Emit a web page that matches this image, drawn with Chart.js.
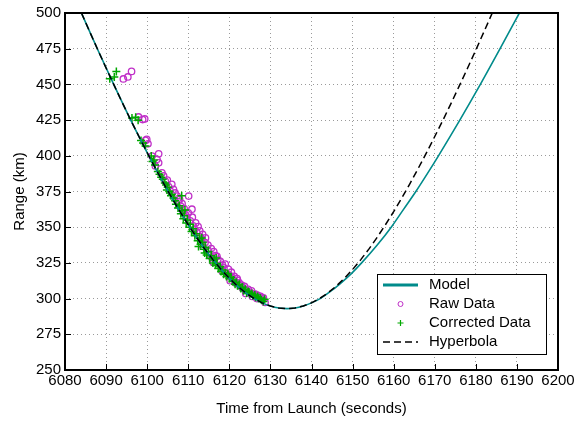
<!DOCTYPE html>
<html>
<head>
<meta charset="utf-8">
<script src="https://cdn.jsdelivr.net/npm/chart.js@4"></script>
<style>
  html, body { margin: 0; padding: 0; background: #fff; }
  #wrap { width: 580px; height: 422px; }
</style>
</head>
<body>
<div id="wrap"><canvas id="c" width="580" height="422"></canvas></div>
<script>
// ---------- axes ----------
const X_MIN = 6080, X_MAX = 6200, X_STEP = 10;
const Y_MIN = 250, Y_MAX = 500, Y_STEP = 25;

// ---------- hyperbola fit (s, km) ----------
const hyperTime = [6084, 6086, 6088, 6090, 6092, 6094, 6096, 6098, 6100, 6102, 6104, 6106, 6108,
  6110, 6112, 6114, 6116, 6118, 6120, 6122, 6124, 6126, 6128, 6130, 6132, 6134,
  6136, 6138, 6140, 6142, 6144, 6146, 6148, 6150, 6152, 6154, 6156, 6158, 6160,
  6162, 6164, 6166, 6168, 6170, 6172, 6174, 6176, 6178, 6180, 6182, 6184];
const hyperRange = [500.0, 487.0, 474.1, 461.5, 449.1, 436.9, 425.0, 413.5, 402.2, 391.3, 380.7, 370.6, 360.9,
  351.7, 343.0, 334.8, 327.3, 320.4, 314.2, 308.7, 304.0, 300.1, 297.0, 294.8, 293.4, 293.0,
  293.4, 294.8, 297.0, 300.1, 304.0, 308.7, 314.2, 320.4, 327.3, 334.8, 343.0, 351.7, 360.9,
  370.6, 380.7, 391.3, 402.2, 413.5, 425.0, 436.9, 449.1, 461.5, 474.1, 487.0, 500.0];

// ---------- orbit model (s, km) ----------
const modelTime = [6084, 6088, 6092, 6096, 6100, 6104, 6108, 6112, 6116, 6120, 6124, 6128, 6131, 6134,
  6136, 6138, 6140, 6142.1, 6144.6, 6146.8, 6149.7, 6152.2, 6156.0, 6159.4, 6162.4, 6165.4,
  6168.2, 6170.9, 6176.1, 6181.1, 6185.9, 6190.6];
const modelRange = [500.0, 474.1, 449.1, 425.0, 402.2, 380.7, 360.9, 343.0, 327.3, 314.2, 304.0, 297.0, 294.0, 293.0,
  293.4, 294.8, 297.0, 300.0, 305.0, 310.0, 317.5, 325.0, 337.5, 350.0, 362.5, 375.0,
  387.5, 400.0, 425.0, 450.0, 475.0, 500.0];

// ---------- measurements ----------
const rawTime = [6094.2, 6095.3, 6096.2, 6097.9, 6098.9, 6099.4, 6099.6, 6100.2, 6099.9,
  6101.2, 6102.8, 6102.4, 6102.8, 6102.0, 6103.6, 6104.4, 6106.0, 6106.4, 6105.2,
  6110.1, 6107.3, 6106.8, 6108.1, 6110.9, 6107.6, 6108.9, 6109.7, 6110.5, 6109.4, 6111.2,
  6112.1, 6111.6, 6113.3, 6114.1, 6112.9, 6113.6, 6115.3, 6116.6, 6116.1, 6115.0, 6117.2,
  6119.0, 6118.2, 6119.4, 6118.7, 6120.6, 6120.0, 6121.4, 6122.0, 6122.6, 6123.2, 6124.3,
  6123.8, 6125.2, 6126.3, 6127.0, 6127.5, 6128.1, 6128.7, 6126.7, 6125.6,
  6104.0, 6104.9, 6105.6, 6107.9, 6108.5, 6109.0, 6110.0, 6111.0, 6111.8, 6112.4, 6112.8,
  6113.5, 6114.2, 6114.8, 6115.6, 6116.2, 6117.0, 6117.8, 6118.3, 6119.8, 6120.5, 6121.2,
  6121.9, 6122.4, 6123.0, 6123.7, 6124.6, 6125.4, 6125.9, 6126.8, 6127.6, 6128.3, 6124.0,
  6120.2, 6115.8];
const rawRange = [453.8, 455.2, 459.1, 427.2, 425.4, 425.8, 410.8, 408.4, 411.5,
  399.8, 401.4, 397.5, 395.1, 392.8, 388.1, 382.3, 380.0, 376.5, 378.5,
  371.8, 371.8, 374.0, 364.9, 362.6, 368.0, 360.2, 356.7, 354.4, 358.5, 351.0,
  346.2, 348.5, 341.6, 339.2, 343.5, 336.5, 330.1, 330.1, 325.3, 333.0, 327.5,
  324.2, 319.5, 317.2, 321.5, 314.8, 316.5, 311.3, 312.8, 309.0, 307.5, 305.5,
  306.5, 304.0, 303.2, 302.0, 300.8, 299.5, 297.3, 300.0, 301.5,
  386.0, 383.0, 375.5, 369.5, 366.5, 363.0, 360.0, 357.0, 353.0, 350.5, 347.5,
  345.0, 342.5, 337.5, 335.0, 333.0, 329.5, 326.0, 323.5, 320.5, 318.5, 315.5,
  314.0, 311.0, 309.5, 308.5, 306.5, 305.5, 303.0, 302.5, 301.5, 300.5, 303.5,
  312.5, 328.5];

const corrTime = [6090.9, 6092.0, 6092.5, 6096.3, 6097.8, 6097.2, 6098.5, 6099.6, 6099.0,
  6101.0, 6101.6, 6101.9, 6101.3, 6102.6, 6103.4, 6104.3, 6105.0, 6104.8,
  6106.0, 6106.4, 6108.4, 6107.0, 6107.5, 6109.2, 6108.2, 6108.8, 6109.5, 6110.3, 6110.8,
  6111.6, 6112.3, 6113.0, 6112.5, 6113.8, 6114.5, 6115.2, 6116.0, 6116.6, 6117.3,
  6118.0, 6118.6, 6119.3, 6120.0, 6120.8, 6121.4, 6122.0, 6122.8, 6123.5, 6124.2,
  6125.0, 6125.7, 6126.4, 6127.1, 6127.8, 6128.3, 6124.6, 6119.6, 6114.0,
  6103.0, 6103.8, 6104.6, 6105.4, 6105.8, 6106.8, 6107.8, 6108.5, 6109.0, 6109.8, 6110.5,
  6111.2, 6111.9, 6112.8, 6113.5, 6114.2, 6114.9, 6115.6, 6116.3, 6117.0, 6117.8, 6118.4,
  6119.0, 6119.7, 6120.4, 6121.0, 6121.7, 6122.4, 6123.2, 6123.9, 6124.8, 6125.5, 6126.2,
  6126.9, 6127.5, 6128.6, 6113.3, 6116.8];
const corrRange = [454.0, 455.2, 459.1, 426.5, 424.9, 427.0, 410.8, 406.8, 409.0,
  399.8, 397.0, 393.5, 396.0, 389.0, 385.0, 381.0, 378.0, 376.0,
  373.0, 370.5, 372.0, 366.0, 363.5, 362.0, 359.5, 356.0, 353.0, 350.0, 347.0,
  344.0, 340.5, 338.0, 336.5, 334.5, 330.5, 328.0, 325.0, 323.5, 321.0,
  319.0, 317.0, 315.5, 314.0, 312.0, 310.0, 309.0, 307.0, 305.5, 304.0,
  303.0, 302.0, 301.0, 300.0, 299.0, 298.0, 305.0, 317.5, 332.0,
  387.0, 383.5, 379.5, 375.0, 372.0, 368.5, 365.0, 361.5, 358.0, 355.0, 352.0,
  349.0, 345.5, 342.0, 339.5, 336.0, 333.0, 330.0, 327.0, 324.5, 322.5, 320.0,
  318.0, 316.5, 315.0, 313.0, 311.5, 310.0, 308.0, 306.5, 304.5, 303.5, 302.5,
  301.5, 300.5, 299.5, 342.5, 328.5];

const TEAL = '#008b8b';
const MAGENTA = '#c030c8';
const GREEN = '#00a800';
const FONT = 'Arial, "Liberation Sans", Helvetica, sans-serif';

const pts = (xs, ys) => xs.map((x, i) => ({ x, y: ys[i] }));

// legend rows: label + how to draw its sample
const LEGEND = [
  { label: 'Model', kind: 'line', color: TEAL, width: 3, dash: [] },
  { label: 'Raw Data', kind: 'circle', color: MAGENTA },
  { label: 'Corrected Data', kind: 'plus', color: GREEN },
  { label: 'Hyperbola', kind: 'line', color: '#000', width: 1.5, dash: [7, 4] },
];

// frame, inward tick marks, axis titles and the boxed legend
const decor = {
  id: 'decor',
  afterDraw(chart) {
    const { ctx, chartArea: a, scales: { x, y } } = chart;
    ctx.save();
    ctx.strokeStyle = '#000';
    ctx.lineWidth = 1;
    ctx.beginPath();
    for (let v = X_MIN + X_STEP; v < X_MAX; v += X_STEP) {
      const px = Math.round(x.getPixelForValue(v)) + 0.5;
      ctx.moveTo(px, a.bottom); ctx.lineTo(px, a.bottom - 6);
    }
    for (let v = Y_MIN + Y_STEP; v < Y_MAX; v += Y_STEP) {
      const py = Math.round(y.getPixelForValue(v)) + 0.5;
      ctx.moveTo(a.left, py); ctx.lineTo(a.left + 6, py);
    }
    ctx.stroke();
    ctx.lineWidth = 2;
    ctx.strokeRect(a.left, a.top, a.right - a.left, a.bottom - a.top);

    // axis titles
    ctx.fillStyle = '#000';
    ctx.font = '15px ' + FONT;
    ctx.textAlign = 'center';
    ctx.textBaseline = 'middle';
    ctx.fillText('Time from Launch (seconds)', (a.left + a.right) / 2, 409);
    ctx.save();
    ctx.translate(20, (a.top + a.bottom) / 2);
    ctx.rotate(-Math.PI / 2);
    ctx.fillText('Range (km)', 0, 0);
    ctx.restore();

    // legend box
    const bx = 377.5, by = 274.5, bw = 169, bh = 80;
    ctx.fillStyle = '#fff';
    ctx.fillRect(bx, by, bw, bh);
    ctx.lineWidth = 1;
    ctx.strokeStyle = '#000';
    ctx.strokeRect(bx, by, bw, bh);
    ctx.textAlign = 'left';
    LEGEND.forEach((e, i) => {
      const cy = 285 + i * 19;
      const x0 = 383, x1 = 418, cx = (x0 + x1) / 2;
      ctx.save();
      if (e.kind === 'line') {
        ctx.strokeStyle = e.color;
        ctx.lineWidth = e.width;
        ctx.setLineDash(e.dash);
        ctx.beginPath(); ctx.moveTo(x0, cy); ctx.lineTo(x1, cy); ctx.stroke();
      } else if (e.kind === 'circle') {
        ctx.strokeStyle = e.color; ctx.lineWidth = 1;
        ctx.beginPath(); ctx.arc(cx, cy, 2.5, 0, Math.PI * 2); ctx.stroke();
      } else {
        ctx.strokeStyle = e.color; ctx.lineWidth = 1.2;
        ctx.beginPath();
        ctx.moveTo(cx - 3, cy); ctx.lineTo(cx + 3, cy);
        ctx.moveTo(cx, cy - 3); ctx.lineTo(cx, cy + 3);
        ctx.stroke();
      }
      ctx.restore();
      ctx.fillStyle = '#000';
      ctx.fillText(e.label, 429, cy);
    });
    ctx.restore();
  }
};

new Chart(document.getElementById('c'), {
  type: 'scatter',
  data: {
    datasets: [
      {
        label: 'Hyperbola', data: pts(hyperTime, hyperRange), showLine: true, order: 0,
        borderColor: '#000', borderWidth: 1.5, borderDash: [7, 4], pointRadius: 0, fill: false,
      },
      {
        label: 'Model', data: pts(modelTime, modelRange), showLine: true, order: 1,
        borderColor: TEAL, borderWidth: 1.6, pointRadius: 0, fill: false, cubicInterpolationMode: 'monotone',
      },
      {
        label: 'Corrected Data', data: pts(corrTime, corrRange), order: 2,
        pointStyle: 'cross', pointRadius: 4, borderWidth: 1.5, borderColor: GREEN, backgroundColor: GREEN,
      },
      {
        label: 'Raw Data', data: pts(rawTime, rawRange), order: 3,
        pointStyle: 'circle', pointRadius: 3.2, borderWidth: 1.3, borderColor: MAGENTA, backgroundColor: 'rgba(0,0,0,0)',
      },
    ],
  },
  options: {
    responsive: false,
    animation: false,
    events: [],
    layout: { autoPadding: false, padding: { top: 12, right: 22, left: 0, bottom: 0 } },
    plugins: { legend: { display: false }, tooltip: { enabled: false } },
    scales: {
      x: {
        type: 'linear', min: X_MIN, max: X_MAX,
        afterFit: s => { s.height = 52; },
        afterBuildTicks: s => { s.ticks = []; for (let v = X_MIN; v <= X_MAX; v += X_STEP) s.ticks.push({ value: v }); },
        ticks: { color: '#000', font: { family: FONT, size: 15 }, padding: 2, maxRotation: 0, autoSkip: false,
          callback: v => String(v) },
        grid: { color: '#9a9a9a', lineWidth: 1, drawTicks: false },
        border: { display: false, dash: [1, 3] },
      },
      y: {
        type: 'linear', min: Y_MIN, max: Y_MAX,
        afterFit: s => { s.width = 65; },
        afterBuildTicks: s => { s.ticks = []; for (let v = Y_MIN; v <= Y_MAX; v += Y_STEP) s.ticks.push({ value: v }); },
        ticks: { color: '#000', font: { family: FONT, size: 15 }, padding: 4, callback: v => String(v) },
        grid: { color: '#9a9a9a', lineWidth: 1, drawTicks: false },
        border: { display: false, dash: [1, 3] },
      },
    },
  },
  plugins: [decor],
});
</script>
</body>
</html>
